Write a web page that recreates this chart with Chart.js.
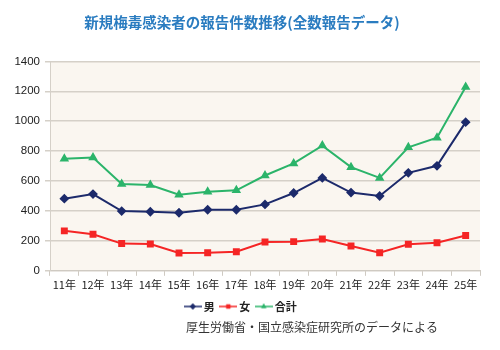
<!DOCTYPE html>
<html>
<head>
<meta charset="utf-8">
<script src="https://cdn.jsdelivr.net/npm/chart.js@4/dist/chart.umd.min.js"></script>
<style>
  html, body { margin: 0; padding: 0; background: #fff; }
  #wrap { width: 500px; height: 350px; }
</style>
</head>
<body>
<div id="wrap"><canvas id="c" width="500" height="350"></canvas></div>
<script>
// 年 (平成)
const years = ['11年','12年','13年','14年','15年','16年','17年','18年','19年','20年','21年','22年','23年','24年','25年'];
// 報告件数
const male   = [482, 513, 399, 395, 388, 408, 408, 444, 520, 621, 523, 500, 655, 702, 994];
const female = [267, 244, 182, 179, 119, 121, 128, 193, 195, 213, 166, 121, 177, 188, 236];
const total  = [749, 758, 581, 574, 509, 529, 538, 637, 718, 837, 693, 621, 826, 890, 1229];
const yTicks = [0, 200, 400, 600, 800, 1000, 1200, 1400];

const titleText = '新規梅毒感染者の報告件数推移(全数報告データ)';
const sourceText = '厚生労働省・国立感染症研究所のデータによる';

const jpFont = '"Noto Sans CJK JP", sans-serif';

// plot background + source note
const extras = {
  id: 'extras',
  beforeDraw(chart) {
    const { ctx, chartArea: a } = chart;
    ctx.save();
    ctx.fillStyle = '#faf6f0';
    ctx.fillRect(a.left, a.top, a.right - a.left, a.bottom - a.top);
    ctx.restore();
  },
  afterDraw(chart) {
    const ctx = chart.ctx;
    ctx.save();
    ctx.fillStyle = '#333';
    ctx.font = '12px ' + jpFont;
    ctx.textBaseline = 'middle';
    ctx.textAlign = 'left';
    ctx.fillText(sourceText, 186, 327);
    ctx.restore();
  }
};

// legend icon: short line with the marker on it
function legendIcon(color, style) {
  const cv = document.createElement('canvas');
  cv.width = 18; cv.height = 8;
  const g = cv.getContext('2d');
  g.strokeStyle = color; g.lineWidth = 1.5;
  g.beginPath(); g.moveTo(0, 4); g.lineTo(18, 4); g.stroke();
  g.fillStyle = color;
  Chart.helpers.drawPoint(g, { pointStyle: style, radius: 3, borderWidth: 0, rotation: 0 }, 9, 4);
  g.fill();
  return cv;
}

function ds(label, data, color, style) {
  return {
    label, data,
    borderColor: color, backgroundColor: color,
    borderWidth: 2, pointStyle: style, pointRadius: 3.5, pointHoverRadius: 3.5,
    tension: 0, legendIcon: legendIcon(color, style)
  };
}

new Chart(document.getElementById('c'), {
  type: 'line',
  data: {
    labels: years,
    datasets: [
      ds('男', male, '#1c2a6b', 'rectRot'),
      ds('女', female, '#f52525', 'rect'),
      ds('合計', total, '#2bb46a', 'triangle')
    ]
  },
  options: {
    responsive: false,
    animation: false,
    layout: { padding: { left: 4, right: 20, top: 10, bottom: 28 } },
    plugins: {
      title: {
        display: true, text: titleText, color: '#2a7cc0',
        font: { family: jpFont, size: 14.5, weight: 'bold' },
        padding: { top: 4, bottom: 30 }
      },
      legend: {
        position: 'bottom',
        labels: {
          usePointStyle: true, boxWidth: 18, boxHeight: 8, padding: 8,
          color: '#222', font: { family: jpFont, size: 11, weight: 'bold' },
          generateLabels(chart) {
            return chart.data.datasets.map((d, i) => ({
              text: d.label, pointStyle: d.legendIcon, fontColor: '#222',
              lineWidth: 0, strokeStyle: 'transparent', fillStyle: d.borderColor,
              datasetIndex: i, hidden: false
            }));
          }
        }
      },
      tooltip: { enabled: false }
    },
    scales: {
      x: {
        offset: true,
        grid: { offset: true, drawOnChartArea: false, color: '#cfcac2', tickLength: 5 },
        border: { color: '#cfcac2' },
        ticks: { color: '#222', font: { family: jpFont, size: 11 }, maxRotation: 0, autoSkip: false, padding: 2 }
      },
      y: {
        min: 0, max: 1400,
        afterBuildTicks(s) { s.ticks = yTicks.map(v => ({ value: v })); },
        afterFit(s) { s.width = 46; },
        grid: { color: '#d5d0c8', lineWidth: 1.5, tickLength: 5 },
        border: { color: '#d5d0c8' },
        ticks: {
          color: '#222', font: { family: '"Liberation Sans", Arial, sans-serif', size: 11.5 }, padding: 5,
          callback: v => String(v)
        }
      }
    }
  },
  plugins: [extras]
});
</script>
</body>
</html>
